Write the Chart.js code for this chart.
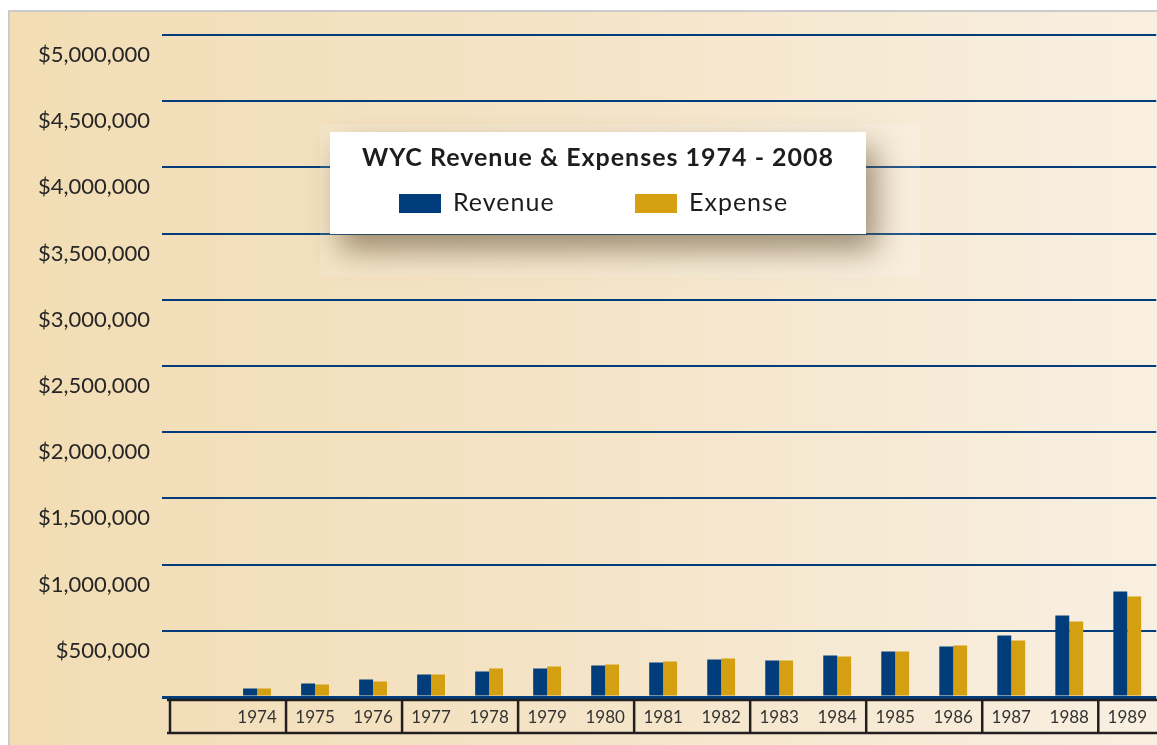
<!DOCTYPE html>
<html>
<head>
<meta charset="utf-8">
<script src="https://cdn.jsdelivr.net/npm/chart.js@4"></script>
<style>
  html, body { margin: 0; padding: 0; background: #fff; overflow: hidden; }
  #wrap { position: relative; width: 1157px; height: 745px; }
  #panel {
    position: absolute; left: 8px; top: 10px; width: 1160px; height: 745px;
    border-top: 2px solid #cbcbcb; border-left: 2px solid #cbcbcb;
    background: linear-gradient(90deg, #f2ddb4 0%, #f4e3c5 45%, #f9f0e2 100%);
  }
  #chart { position: absolute; left: 0; top: 0; }
</style>
</head>
<body>
<div id="wrap">
  <div id="panel"></div>
  <canvas id="chart" width="1157" height="745"></canvas>
</div>
<script>
// first slot is left empty in the original layout
const years = ['', '1974', '1975', '1976', '1977', '1978', '1979', '1980', '1981',
               '1982', '1983', '1984', '1985', '1986', '1987', '1988', '1989'];
const revenue = [null, 64000, 102000, 132000, 170000, 193000, 215000, 238000, 260000,
                 283000, 276000, 313000, 344000, 381000, 464000, 616000, 797000];
const expense = [null, 64000, 94000, 117000, 170000, 215000, 230000, 245000, 268000,
                 291000, 276000, 306000, 344000, 389000, 427000, 570000, 759000];
const yTicks = [0, 500000, 1000000, 1500000, 2000000, 2500000, 3000000, 3500000, 4000000, 4500000, 5000000];

const legendTitle = 'WYC Revenue & Expenses 1974 - 2008';
const navy = '#003d7a';
const gold = '#d4a011';
const font = 'Lato, "Open Sans", sans-serif';

// boxes around the year labels, two years per box
const yearBoxes = {
  id: 'yearBoxes',
  afterDraw(chart) {
    const x = chart.scales.x;
    const ctx = chart.ctx;
    const w = x.width / years.length;
    ctx.save();
    ctx.strokeStyle = '#231f20';
    ctx.lineWidth = 2.5;
    ctx.beginPath();
    ctx.moveTo(x.left - 3, 700);
    ctx.lineTo(x.right + 5, 700);
    ctx.moveTo(x.left - 3, 733);
    ctx.lineTo(x.right + 5, 733);
    for (let k = 0; k <= years.length; k += 2) {
      const px = x.left + k * w;
      ctx.moveTo(px, 700);
      ctx.lineTo(px, 734);
    }
    ctx.stroke();
    ctx.restore();
  }
};

// floating legend box with title
const legendBox = {
  id: 'legendBox',
  afterDraw(chart) {
    const ctx = chart.ctx;
    ctx.save();
    ctx.fillStyle = 'rgba(255,255,255,0.15)';
    ctx.fillRect(320, 124, 600, 153);

    ctx.shadowColor = 'rgba(70,50,20,0.5)';
    ctx.shadowBlur = 28;
    ctx.shadowOffsetX = 10;
    ctx.shadowOffsetY = 16;
    ctx.fillStyle = '#ffffff';
    ctx.fillRect(330, 132, 536, 102);
    ctx.shadowColor = 'transparent';

    ctx.fillStyle = '#1f1c1d';
    ctx.textAlign = 'center';
    ctx.textBaseline = 'middle';
    ctx.letterSpacing = '1px';
    ctx.font = 'bold 25px ' + font;
    ctx.fillText(legendTitle, 598, 158);

    ctx.textAlign = 'left';
    ctx.font = '25px ' + font;
    const xs = [399, 635];
    chart.data.datasets.forEach((ds, i) => {
      ctx.fillStyle = ds.backgroundColor;
      ctx.fillRect(xs[i], 194, 42, 19);
      ctx.fillStyle = '#1f1c1d';
      ctx.fillText(ds.label, xs[i] + 54, 203);
    });
    ctx.restore();
  }
};

new Chart(document.getElementById('chart'), {
  type: 'bar',
  data: {
    labels: years,
    datasets: [
      { label: 'Revenue', data: revenue, backgroundColor: navy },
      { label: 'Expense', data: expense, backgroundColor: gold }
    ]
  },
  options: {
    responsive: false,
    animation: false,
    layout: { padding: { top: 35, right: 0, bottom: 0, left: 0 } },
    datasets: { bar: { categoryPercentage: 0.48, barPercentage: 1.0 } },
    plugins: { legend: { display: false }, tooltip: { enabled: false } },
    scales: {
      x: {
        grid: { display: false, drawTicks: false },
        border: { display: false },
        ticks: {
          autoSkip: false, maxRotation: 0, padding: 10,
          color: '#333333', font: { family: font, size: 17 }
        },
        afterFit(scale) { scale.height = 48; }
      },
      y: {
        min: 0,
        max: 5000000,
        afterBuildTicks(scale) { scale.ticks = yTicks.map(v => ({ value: v })); },
        grid: {
          color: navy,
          lineWidth: c => (c.tick && c.tick.value === 0 ? 3 : 2),
          drawTicks: true,
          tickLength: 8
        },
        border: { display: false },
        ticks: {
          padding: 12,
          labelOffset: 20,
          color: '#262626',
          font: { family: font, size: 22 },
          callback: v => (v === 0 ? '' : '$' + v.toLocaleString('en-US'))
        },
        afterFit(scale) { scale.width = 170; }
      }
    }
  },
  plugins: [yearBoxes, legendBox]
});
</script>
</body>
</html>
